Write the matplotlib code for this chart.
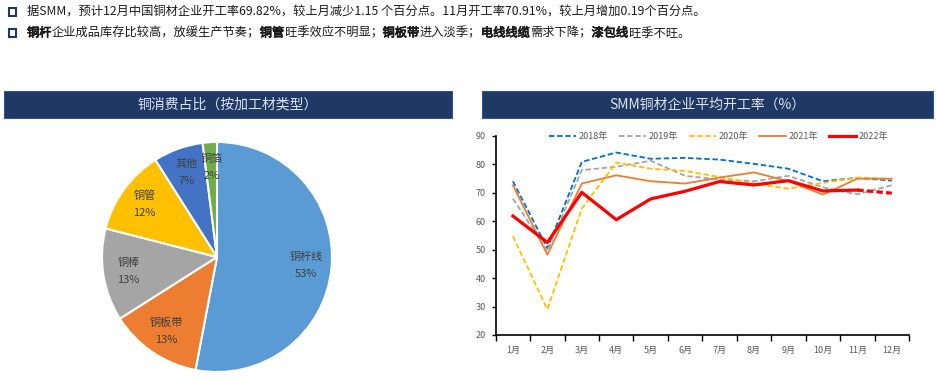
import matplotlib
matplotlib.use("Agg")
import matplotlib.pyplot as plt
import matplotlib.patheffects as pe
from matplotlib.patches import Rectangle
from matplotlib.font_manager import FontProperties, findfont, get_font
import numpy as np

plt.rcParams['font.family'] = ['Noto Sans CJK SC', 'DejaVu Sans']

# -----------------------------------------
# Data
# -----------------------------------------
pie_labels = ["铜杆线", "铜板带", "铜棒", "铜管", "其他", "铜箔"]
pie_values = [53, 13, 13, 12, 7, 2]
pie_colors = ["#5B9BD5", "#ED7D31", "#A5A5A5", "#FFC000", "#4472C4", "#70AD47"]

months = ["1月", "2月", "3月", "4月", "5月", "6月", "7月", "8月", "9月", "10月", "11月", "12月"]
rate_2018 = [74.0, 50.5, 80.8, 84.1, 81.9, 82.2, 81.6, 80.1, 78.4, 74.0, 75.2, 74.2]
rate_2019 = [67.9, 49.5, 77.9, 79.1, 81.2, 75.9, 74.6, 74.0, 75.9, 71.9, 69.4, 72.6]
rate_2020 = [54.7, 29.0, 64.4, 80.6, 78.4, 77.6, 75.5, 73.2, 71.4, 73.4, 75.3, 74.8]
rate_2021 = [72.6, 48.2, 73.2, 76.1, 74.0, 73.2, 75.3, 77.1, 74.0, 69.3, 74.9, 74.9]
rate_2022 = [61.8, 52.5, 70.1, 60.5, 67.8, 70.5, 73.9, 72.7, 74.2, 70.6, 70.91, 69.82]

line1 = [("据SMM，预计12月中国铜材企业开工率69.82%，较上月减少1.15 个百分点。11月开工率70.91%，较上月增加0.19个百分点。", False)]
line2 = [("铜杆", True), ("企业成品库存比较高，放缓生产节奏；", False),
         ("铜管", True), ("旺季效应不明显；", False),
         ("铜板带", True), ("进入淡季；", False),
         ("电线线缆", True), ("需求下降；", False),
         ("漆包线", True), ("旺季不旺。", False)]

W, H = 937, 381
fig = plt.figure(figsize=(W / 100, H / 100), dpi=100)
navy = "#1F3864"
text_col = "#1a1a1a"
cjk_font = get_font(findfont(FontProperties(family="Noto Sans CJK SC")))


def px(x, y):
    return x / W, 1 - y / H


def advance(s, size):
    # sum of glyph advances in pixels
    cjk_font.set_size(size, 100)
    return sum(cjk_font.load_char(ord(c)).linearHoriAdvance / 65536 for c in s)


# -----------------------------------------
# Bullet text at the top
# -----------------------------------------
def rich_line(y, parts, size=8.8):
    xpos = 27
    for s, bold in parts:
        fx, fy = px(xpos, y)
        effects = [pe.withStroke(linewidth=0.55, foreground=text_col)] if bold else None
        fig.text(fx, fy, s, fontsize=size, color=text_col, va="center", ha="left",
                 path_effects=effects)
        xpos += advance(s, size) + (0.6 if bold else 0)
    # hollow square bullet
    bx, by = px(9.5, y + 3.5)
    fig.add_artist(Rectangle((bx, by), 7 / W, 7 / H, transform=fig.transFigure,
                             fill=False, edgecolor=navy, lw=1.5))


rich_line(12, line1)
rich_line(33, line2)

# -----------------------------------------
# Header boxes
# -----------------------------------------
for x0, x1, title in [(4, 452, "铜消费占比（按加工材类型）"), (482, 933, "SMM铜材企业平均开工率（%）")]:
    bx, by = px(x0, 118)
    fig.add_artist(Rectangle((bx, by), (x1 - x0) / W, 27 / H, transform=fig.transFigure,
                             facecolor=navy, edgecolor="#2E5597", lw=0.8))
    tx, ty = px((x0 + x1) / 2, 104.5)
    fig.text(tx, ty, title, color="#DCE3EE", fontsize=10, ha="center", va="center")

# -----------------------------------------
# Pie chart
# -----------------------------------------
cx, cy, r = 217, 257, 115
ax_pie = fig.add_axes([(cx - r) / W, (H - cy - r) / H, 2 * r / W, 2 * r / H])
wedges, _ = ax_pie.pie(pie_values, colors=pie_colors, startangle=90, counterclock=False,
                       wedgeprops=dict(edgecolor="white", linewidth=1.5))
ax_pie.set_xlim(-1, 1)
ax_pie.set_ylim(-1, 1)
for w in wedges:
    w.set_clip_on(False)
for w, name, v in zip(wedges, pie_labels, pie_values):
    ang = np.deg2rad((w.theta1 + w.theta2) / 2)
    d = 0.78
    ax_pie.text(d * np.cos(ang), d * np.sin(ang), f"{name}\n{v}%", ha="center", va="center",
                fontsize=8, color="#404040", linespacing=1.9)

# -----------------------------------------
# Line chart
# -----------------------------------------
left, right, top, bottom = 495.7, 909, 135.7, 335
ax = fig.add_axes([left / W, (H - bottom) / H, (right - left) / W, (bottom - top) / H])
x = np.arange(len(months))
ax.plot(x, rate_2018, color="#0070C0", lw=1.3, ls=(0, (3, 1.5)), label="2018年")
ax.plot(x, rate_2019, color="#A5A5A5", lw=1.3, ls=(0, (3, 1.5)), label="2019年")
ax.plot(x, rate_2020, color="#FFC000", lw=1.3, ls=(0, (3, 1.5)), label="2020年")
ax.plot(x, rate_2021, color="#ED7D31", lw=1.3, label="2021年")
ax.plot(x[:11], rate_2022[:11], color="#FF0000", lw=2.3, label="2022年", zorder=5)
ax.plot(x[10:], rate_2022[10:], color="#FF0000", lw=2.3, ls=(0, (2, 1)), zorder=5)

ax.set_xlim(-0.5, 11.5)
ax.set_ylim(20, 90)
ax.set_yticks(range(20, 91, 10))
ax.set_xticks(np.arange(-0.5, 12, 1))
ax.set_xticklabels([])
ax.set_xticks(x, minor=True)
ax.set_xticklabels(months, minor=True)
ax.tick_params(axis="x", which="major", length=4, width=1, direction="out", color="black")
ax.tick_params(axis="x", which="minor", length=0, pad=8, labelsize=6.5, labelcolor="#595959")
ax.tick_params(axis="y", length=3, width=1, labelsize=6.5, labelcolor="#595959", pad=4)
for s in ["top", "right"]:
    ax.spines[s].set_visible(False)
for s in ["left", "bottom"]:
    ax.spines[s].set_linewidth(1.2)
    ax.spines[s].set_color("black")

ax.legend(loc="center", bbox_to_anchor=(0.54, 0.995), ncol=5, frameon=False, fontsize=6.5,
          handlelength=3, columnspacing=1.2, handletextpad=0.3, labelcolor="#595959")

fig.savefig("out.png", dpi=100)
